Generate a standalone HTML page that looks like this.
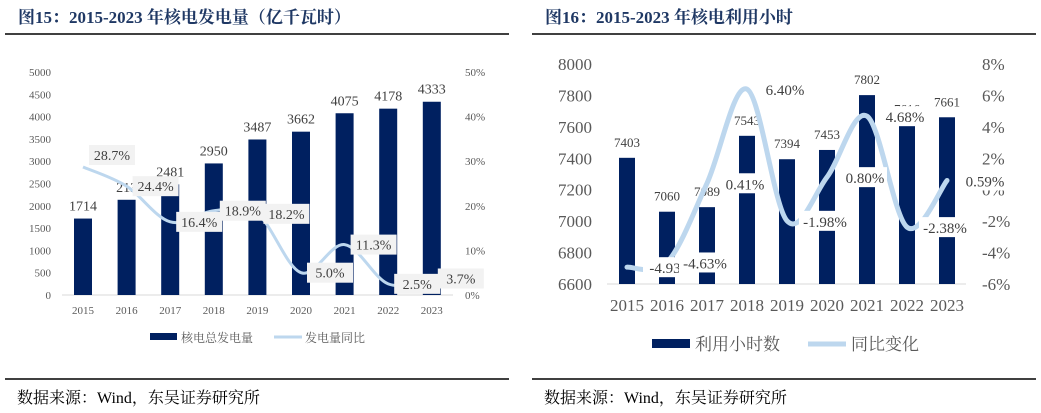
<!DOCTYPE html>
<html><head><meta charset="utf-8"><style>
html,body{margin:0;padding:0;background:#fff;width:1041px;height:413px;overflow:hidden}
svg{display:block}
text{font-family:"Liberation Serif","Noto Serif CJK SC",serif}
.cjk{font-family:"Liberation Serif","Noto Serif CJK SC","Noto Sans CJK SC",serif}
</style></head><body>
<svg id="svg" width="1041" height="413" viewBox="0 0 1041 413" xmlns="http://www.w3.org/2000/svg">
  <text class="cjk" x="18" y="23" font-size="17" font-weight="bold" fill="#1f3864">图15：2015-2023 年核电发电量（亿千瓦时）</text>
  <line x1="5" y1="34" x2="509" y2="34" stroke="#000" stroke-width="1.5"/>
  <line x1="5" y1="379" x2="509" y2="379" stroke="#000" stroke-width="1.5"/>
  <text class="cjk" x="17" y="403" font-size="16" fill="#000">数据来源：Wind，东吴证券研究所</text>

  <text class="cjk" x="545" y="23" font-size="17" font-weight="bold" fill="#1f3864">图16：2015-2023 年核电利用小时</text>
  <line x1="532" y1="34" x2="1036" y2="34" stroke="#000" stroke-width="1.5"/>
  <line x1="532" y1="379" x2="1036" y2="379" stroke="#000" stroke-width="1.5"/>
  <text class="cjk" x="544" y="403" font-size="16" fill="#000">数据来源：Wind，东吴证券研究所</text>
  <g id="left"></g>
  <g id="right"></g>
</svg>
<script>
const years = ["2015","2016","2017","2018","2019","2020","2021","2022","2023"];
const genValues = [1714, 2135, 2481, 2950, 3487, 3662, 4075, 4178, 4333];
const genLabels = ["1714","213","2481","2950","3487","3662","4075","4178","4333"];
const genGrowth = [28.7, 24.4, 16.4, 18.9, 18.2, 5.0, 11.3, 2.5, 3.7];
const leftTicks = [0,500,1000,1500,2000,2500,3000,3500,4000,4500,5000];
const leftPctTicks = [0,10,20,30,40,50];

const hourValues = [7403, 7060, 7089, 7543, 7394, 7453, 7802, 7616, 7661];
const hourChange = [-4.93, -4.63, 0.41, 6.40, -1.98, 0.80, 4.68, -2.38, 0.59];
const hourChangeLabels = ["-4.93","-4.63%","0.41%","6.40%","-1.98%","0.80%","4.68%","-2.38%","0.59%"];
const rightTicks = [6600,6800,7000,7200,7400,7600,7800,8000];
const rightPctTicks = [-6,-4,-2,0,2,4,6,8];

const NS = "http://www.w3.org/2000/svg";
function mk(parent, tag, attrs){const e=document.createElementNS(NS,tag);for(const k in attrs)e.setAttribute(k,attrs[k]);parent.appendChild(e);return e;}
function smooth(pts){let d=`M${pts[0][0]},${pts[0][1]}`;for(let i=0;i<pts.length-1;i++){const p0=pts[i-1]||pts[i],p1=pts[i],p2=pts[i+1],p3=pts[i+2]||p2;const c1=[p1[0]+(p2[0]-p0[0])/6,p1[1]+(p2[1]-p0[1])/6],c2=[p2[0]-(p3[0]-p1[0])/6,p2[1]-(p3[1]-p1[1])/6];d+=` C${c1[0]},${c1[1]} ${c2[0]},${c2[1]} ${p2[0]},${p2[1]}`;}return d;}

// LEFT
(function(){
const g=document.getElementById('left');
const x=i=>83+i*43.6, y=v=>295-v/5000*223, yp=v=>295-v/50*223;
leftTicks.forEach(t=>{const e=mk(g,'text',{x:51,y:y(t)+4,'font-size':11,fill:'#595959','text-anchor':'end'});e.textContent=t;

});
leftPctTicks.forEach(t=>{const e=mk(g,'text',{x:465,y:yp(t)+4,'font-size':11,fill:'#595959'});e.textContent=t+'%';

});
const ax=mk(g,'line',{x1:62,x2:453,y1:295,y2:295,stroke:'#d9d9d9'});


years.forEach((yr,i)=>{const e=mk(g,'text',{x:x(i),y:314,'font-size':11,fill:'#595959','text-anchor':'middle'});e.textContent=yr;

});
genValues.forEach((v,i)=>{const r=mk(g,'rect',{x:x(i)-9,y:y(v),width:18,height:295-y(v),fill:'#002060'});


const t=mk(g,'text',{x:x(i),y:y(v)-8,'font-size':14,fill:'#404040','text-anchor':'middle'});t.textContent=genLabels[i];

});
const pts=genGrowth.map((v,i)=>[x(i),yp(v)]);
const p=mk(g,'path',{d:smooth(pts),fill:'none',stroke:'#bdd7ee','stroke-width':3});


genGrowth.forEach((v,i)=>{const cx=x(i)+29, cy=yp(v)+(i===0?-12:0);
const b=mk(g,'rect',{x:cx-23,y:cy-10,width:46,height:20,fill:'#f2f2f2'});


const t=mk(g,'text',{x:cx,y:cy+5,'font-size':14,fill:'#404040','text-anchor':'middle'});t.textContent=v.toFixed(1)+'%';

});
const l1=mk(g,'rect',{x:150,y:333,width:27,height:7,fill:'#002060'});


const lt1=mk(g,'text',{x:181,y:342,'font-size':12,fill:'#595959',class:'cjk'});lt1.textContent='核电总发电量';


const l2=mk(g,'line',{x1:274,x2:302,y1:337,y2:337,stroke:'#bdd7ee','stroke-width':3});


const lt2=mk(g,'text',{x:305,y:342,'font-size':12,fill:'#595959',class:'cjk'});lt2.textContent='发电量同比';


})();

// RIGHT
(function(){
const g=document.getElementById('right');
const x=i=>627+i*40, y=v=>284-(v-6600)/1400*220, yp=v=>284-(v+6)/14*220;
rightTicks.forEach(t=>{const e=mk(g,'text',{x:592,y:y(t)+6,'font-size':17,fill:'#595959','text-anchor':'end'});e.textContent=t;

});
rightPctTicks.forEach(t=>{const e=mk(g,'text',{x:982,y:yp(t)+6,'font-size':17,fill:'#595959'});e.textContent=t+'%';

});
const ax=mk(g,'line',{x1:607,x2:966,y1:284,y2:284,stroke:'#d9d9d9'});


years.forEach((yr,i)=>{const e=mk(g,'text',{x:x(i),y:311,'font-size':17,fill:'#595959','text-anchor':'middle'});e.textContent=yr;

});
hourValues.forEach((v,i)=>{const r=mk(g,'rect',{x:x(i)-8,y:y(v),width:16,height:284-y(v),fill:'#002060'});


const t=mk(g,'text',{x:x(i),y:y(v)-11,'font-size':13,fill:'#404040','text-anchor':'middle'});t.textContent=v;

});
const pts=hourChange.map((v,i)=>[x(i),yp(v)]);
const p=mk(g,'path',{d:smooth(pts),fill:'none',stroke:'#bdd7ee','stroke-width':5,'stroke-linecap':'round'});


hourChange.forEach((v,i)=>{const cx=x(i)+38, cy=yp(v);
const w=hourChangeLabels[i].length*8+4;
const b=mk(g,'rect',{x:cx-w/2,y:cy-10,width:w,height:20,fill:'#fff'});


const t=mk(g,'text',{x:cx,y:cy+6,'font-size':15,fill:'#404040','text-anchor':'middle'});t.textContent=hourChangeLabels[i];

});
const l1=mk(g,'rect',{x:652,y:339,width:38,height:9,fill:'#002060'});


const lt1=mk(g,'text',{x:695,y:350,'font-size':17,fill:'#595959',class:'cjk'});lt1.textContent='利用小时数';


const l2=mk(g,'line',{x1:808,x2:846,y1:344,y2:344,stroke:'#bdd7ee','stroke-width':5});


const lt2=mk(g,'text',{x:851,y:350,'font-size':17,fill:'#595959',class:'cjk'});lt2.textContent='同比变化';


})();
</script>
</body></html>
